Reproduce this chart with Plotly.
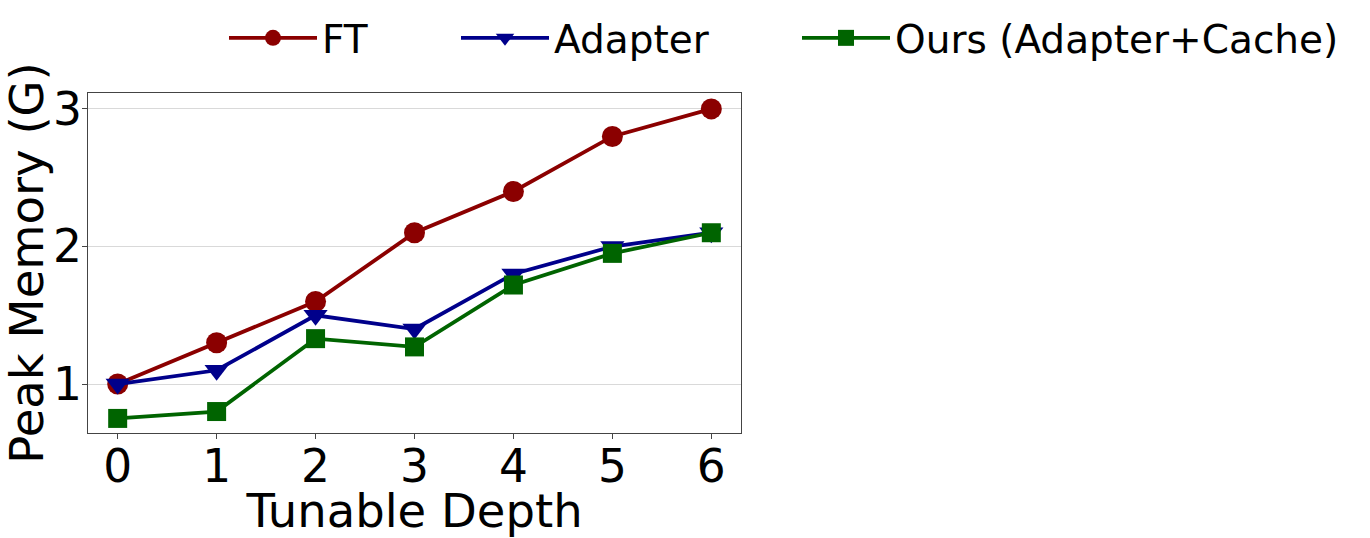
import plotly.graph_objects as go

depth = [0, 1, 2, 3, 4, 5, 6]
ft = [1.0, 1.3, 1.6, 2.1, 2.4, 2.8, 3.0]
adapter = [1.0, 1.1, 1.5, 1.4, 1.8, 2.0, 2.1]
ours = [0.75, 0.80, 1.33, 1.27, 1.72, 1.95, 2.10]

series = [
    ("FT", ft, "#8B0000", "circle", "legend"),
    ("Adapter", adapter, "#00008B", "triangle-down", "legend2"),
    ("Ours (Adapter+Cache)", ours, "#006400", "square", "legend3"),
]

FONT = "DejaVu Sans"
fig = go.Figure()
for name, vals, color, sym, lg in series:
    fig.add_trace(go.Scatter(
        x=depth, y=vals, name=name, mode="lines+markers",
        line=dict(color=color, width=3.8),
        marker=dict(symbol=sym, size=21 if sym != "square" else 19, color=color),
        legend=lg, showlegend=True,
    ))

L, R, T, B = 88, 629, 93, 105
W, H = 1370, 538
pw = W - L - R
ph = H - T - B

def px_x(p):
    return (p - L) / pw

def px_y(p):
    return (H - B - p) / ph

IW = 88
leg_common = dict(orientation="h", font=dict(family=FONT, size=39, color="black"),
                  bgcolor="rgba(0,0,0,0)", yanchor="middle", xanchor="left",
                  itemwidth=IW, visible=True)

off = IW + 10  # text offset from legend left edge
fig.update_layout(
    width=W, height=H,
    margin=dict(l=L, r=R, t=T, b=B, autoexpand=False),
    showlegend=True,
    plot_bgcolor="white", paper_bgcolor="white",
    font=dict(family=FONT, size=44, color="black"),
    legend=dict(x=px_x(333 - 11 - off), y=px_y(38), **leg_common),
    legend2=dict(x=px_x(565 - 11 - off), y=px_y(38), **leg_common),
    legend3=dict(x=px_x(906 - 11 - off), y=px_y(38), **leg_common),
    xaxis=dict(
        range=[-0.30, 6.30], tickvals=depth, ticktext=[str(d) for d in depth],
        title=dict(text="Tunable Depth", font=dict(size=46.5), standoff=0),
        showgrid=False, zeroline=False, automargin=False,
        showline=True, mirror=True, linecolor="#444", linewidth=1,
        ticks="outside", ticklen=5, tickcolor="#444",
        tickfont=dict(size=45.5), ticklabelstandoff=-12,
    ),
    yaxis=dict(
        range=[0.644, 3.116], tickvals=[1, 2, 3], ticktext=["1", "2", "3"],
        title=dict(text="Peak Memory (G)", font=dict(size=46.5), standoff=3),
        showgrid=True, gridcolor="#d9d9d9", gridwidth=1, zeroline=False,
        automargin=False,
        showline=True, mirror=True, linecolor="#444", linewidth=1,
        ticks="outside", ticklen=5, tickcolor="#444",
        tickfont=dict(size=45.5), ticklabelstandoff=-9,
    ),
)

fig.write_html(
    "out.html",
    config={"displayModeBar": False},
    post_script="document.body.style.margin='0';document.body.style.overflow='hidden';",
)
